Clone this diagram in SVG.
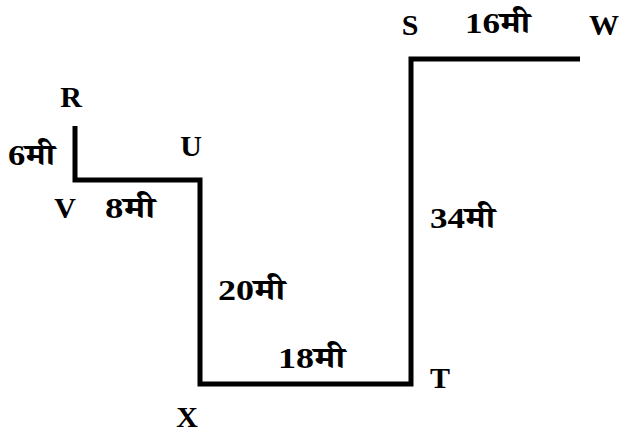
<svg xmlns="http://www.w3.org/2000/svg" width="624" height="434" viewBox="0 0 624 434">
<style>
.t{font-family:"Liberation Serif","Noto Serif Devanagari","Noto Sans Devanagari","Noto Sans",serif;font-weight:bold;font-size:30px;fill:#000}
.ln{fill:none;stroke:#000;stroke-width:5;stroke-linejoin:miter;stroke-linecap:butt}
</style>
<rect width="624" height="434" fill="#fff"/>
<g id="connectors">
<path class="ln" d="M75,126 V180 H200 V384 H411 V59 H580"/>
</g>
<g id="R"><text class="t" x="71" y="107" text-anchor="middle">R</text></g>
<g id="V"><text class="t" x="65" y="218" text-anchor="middle">V</text></g>
<g id="U"><text class="t" x="191" y="156" text-anchor="middle">U</text></g>
<g id="X"><text class="t" x="187" y="427" text-anchor="middle">X</text></g>
<g id="T"><text class="t" x="440" y="388" text-anchor="middle">T</text></g>
<g id="S"><text class="t" x="410" y="35" text-anchor="middle">S</text></g>
<g id="W"><text class="t" x="604" y="35" text-anchor="middle">W</text></g>
<g id="labels">
<text class="t" x="8" y="165" textLength="47" lengthAdjust="spacingAndGlyphs">6मी</text>
<text class="t" x="105" y="218" textLength="50" lengthAdjust="spacingAndGlyphs">8मी</text>
<text class="t" x="218" y="300" textLength="67" lengthAdjust="spacingAndGlyphs">20मी</text>
<text class="t" x="278" y="368" textLength="67" lengthAdjust="spacingAndGlyphs">18मी</text>
<text class="t" x="430" y="228" textLength="65" lengthAdjust="spacingAndGlyphs">34मी</text>
<text class="t" x="465" y="33" textLength="65" lengthAdjust="spacingAndGlyphs">16मी</text>
</g>
</svg>
